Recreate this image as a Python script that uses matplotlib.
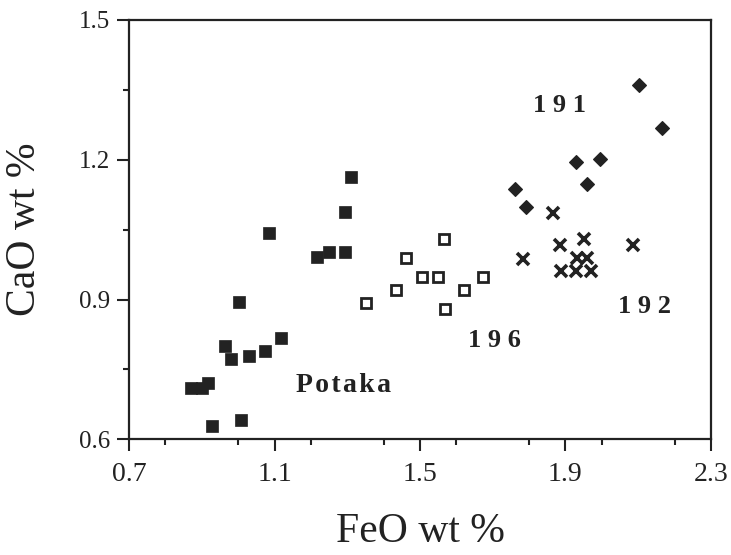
import matplotlib
matplotlib.use("Agg")
import matplotlib.pyplot as plt
from matplotlib.ticker import MultipleLocator, FixedLocator

# Potaka (filled squares)
potaka_feo = [1.309, 1.294, 1.084, 1.294, 1.218, 1.249, 1.002, 0.965, 0.981, 1.031,
              1.075, 1.119, 0.870, 0.902, 0.916, 0.928, 1.008]
potaka_cao = [1.163, 1.088, 1.042, 1.002, 0.992, 1.001, 0.894, 0.800, 0.772, 0.778,
              0.789, 0.818, 0.710, 0.710, 0.721, 0.629, 0.641]

# 196 (open squares)
s196_feo = [1.565, 1.462, 1.505, 1.549, 1.672, 1.434, 1.621, 1.352, 1.569]
s196_cao = [1.030, 0.989, 0.949, 0.949, 0.949, 0.920, 0.920, 0.892, 0.879]

# 191 (filled diamonds)
s191_feo = [2.103, 2.166, 1.929, 1.995, 1.959, 1.761, 1.791]
s191_cao = [1.360, 1.269, 1.196, 1.201, 1.149, 1.137, 1.098]

# 192 (crosses)
s192_feo = [1.866, 1.886, 1.952, 2.087, 1.932, 1.959, 1.887, 1.929, 1.970, 1.783]
s192_cao = [1.086, 1.018, 1.029, 1.017, 0.989, 0.989, 0.962, 0.962, 0.962, 0.988]

x_major = [0.7, 1.1, 1.5, 1.9, 2.3]
y_major = [0.6, 0.9, 1.2, 1.5]
x_labels = ["0.7", "1.1", "1.5", "1.9", "2.3"]
y_labels = ["0.6", "0.9", "1.2", "1.5"]

plt.rcParams['font.family'] = ['Liberation Serif', 'DejaVu Serif']

fig = plt.figure(figsize=(7.31, 5.55), dpi=100)
ax = fig.add_axes([0.1765, 0.2085, 0.7961, 0.7555])

ink = '#222222'
ax.plot(potaka_feo, potaka_cao, linestyle='none', marker='s', ms=8.5,
        mfc=ink, mec=ink, mew=0.5)
ax.plot(s196_feo, s196_cao, linestyle='none', marker='s', ms=7,
        mfc='white', mec=ink, mew=2.0)
ax.plot(s191_feo, s191_cao, linestyle='none', marker='D', ms=7,
        mfc=ink, mec=ink, mew=0.8)
ax.plot(s192_feo, s192_cao, linestyle='none', marker='x', ms=8.5,
        mec=ink, mew=2.6)

ax.set_xlim(0.7, 2.3)
ax.set_ylim(0.6, 1.5)
ax.xaxis.set_major_locator(FixedLocator(x_major))
ax.yaxis.set_major_locator(FixedLocator(y_major))
ax.set_xticklabels(x_labels)
ax.set_yticklabels(y_labels)
ax.xaxis.set_minor_locator(MultipleLocator(0.2))
ax.yaxis.set_minor_locator(MultipleLocator(0.15))
ax.tick_params(which='major', direction='out', length=8.5, width=1.5,
               colors=ink, top=False, right=False)
ax.tick_params(which='minor', direction='out', length=4, width=1.5,
               top=False, right=False, colors=ink)
ax.tick_params(axis='x', which='major', labelsize=20, pad=8)
ax.tick_params(axis='y', which='major', labelsize=18, pad=5)
for s in ax.spines.values():
    s.set_linewidth(1.6)
    s.set_color(ink)

ax.set_xlabel("FeO wt %", fontsize=30, labelpad=18, color=ink)
ax.set_ylabel("CaO wt %", fontsize=30, labelpad=25, color=ink)

ax.text(1.884, 1.317, "1 9 1", fontsize=19, fontweight='bold', ha='center', va='center', color=ink)
ax.text(2.118, 0.884, "1 9 2", fontsize=19, fontweight='bold', ha='center', va='center', color=ink)
ax.text(1.706, 0.811, "1 9 6", fontsize=19, fontweight='bold', ha='center', va='center', color=ink)
ax.text(1.289, 0.716, "P\u200ao\u200at\u200aa\u200ak\u200aa", fontsize=20, fontweight='bold',
        ha='center', va='center', color=ink)

fig.savefig("out.png", dpi=100)
